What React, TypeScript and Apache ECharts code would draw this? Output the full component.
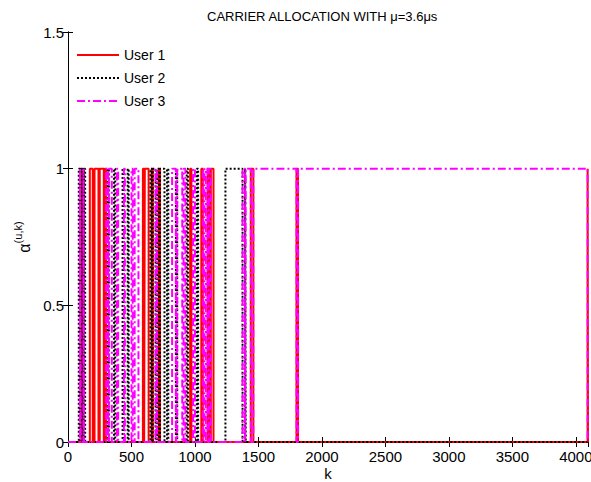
import React, { useEffect, useRef } from "react";
import * as echarts from "echarts";

// carrier index where each allocation segment starts, and the user owning it (0 = none)
const segStart = [
  0, 85, 95, 100, 110, 114, 122, 126, 135, 172, 195, 209, 240, 250, 282, 290, 300, 315, 322, 345,
  362, 372, 385, 395, 430, 440, 448, 470, 478, 500, 510, 525, 555, 590, 600, 605, 635, 650, 660, 668,
  690, 700, 715, 725, 760, 780, 790, 820, 850, 860, 900, 910, 925, 935, 945, 962, 972, 985, 1000, 1015,
  1025, 1050, 1062, 1075, 1085, 1100, 1110, 1125, 1146, 1240, 1375, 1395, 1400, 1440, 1460, 1800, 1812, 4093,
];
const segOwner = [
  0, 2, 3, 2, 1, 2, 3, 2, 0, 1, 0, 1, 0, 1, 0, 1, 3, 2, 3, 0,
  2, 0, 3, 0, 2, 3, 0, 2, 0, 3, 0, 3, 0, 1, 0, 1, 0, 2, 1, 2,
  3, 2, 1, 2, 0, 2, 0, 3, 2, 3, 0, 3, 0, 2, 0, 1, 0, 3, 0, 2,
  0, 1, 3, 0, 3, 1, 3, 1, 0, 2, 3, 2, 3, 1, 3, 1, 3, 1,
];
const kMax = 4096;
const users = ["User 1", "User 2", "User 3"];
const userColors = ["#ff0000", "#000000", "#ff00ff"];
const userDash: (string | number[])[] = ["solid", [2, 2], [8, 3, 2, 3]];
const xTicks = [0, 500, 1000, 1500, 2000, 2500, 3000, 3500, 4000];

function seriesData(u: number): [number, number][] {
  const pts: [number, number][] = segStart.map((k, i) => [k, segOwner[i] === u ? 1 : 0]);
  pts.push([kMax, 0]);
  return pts;
}

const FONT = "'Liberation Sans', Arial, sans-serif";

export default function App() {
  const ref = useRef<HTMLDivElement>(null);
  useEffect(() => {
    if (!ref.current) return;
    const chart = echarts.init(ref.current, null, { renderer: "svg" });
    const axisCommon = {
      axisLine: { show: true, lineStyle: { color: "#000", width: 1 } },
      axisTick: { show: true, inside: true, length: 5, lineStyle: { color: "#000" } },
      splitLine: { show: false },
    };
    chart.setOption({
      animation: false,
      backgroundColor: "#fff",
      textStyle: { fontFamily: FONT },
      grid: { left: 68, right: 3, top: 32, bottom: 40, containLabel: false, outerBoundsMode: "none" },
      legend: {
        orient: "vertical",
        left: 71,
        top: 43,
        itemWidth: 42,
        itemHeight: 12,
        itemGap: 9,
        data: users,
        itemStyle: { color: "rgba(0,0,0,0)", borderColor: "rgba(0,0,0,0)", borderWidth: 0, opacity: 0 },
        textStyle: { fontFamily: FONT, fontSize: 14, color: "#000" },
      },
      graphic: [
        {
          type: "text",
          left: 207,
          top: 10,
          style: { text: "CARRIER ALLOCATION WITH μ=3.6μs", font: `13px ${FONT}`, fill: "#000" },
        },
        {
          type: "text",
          x: 328,
          y: 473,
          style: {
            text: "k",
            font: `15px ${FONT}`,
            fill: "#000",
            align: "center",
            verticalAlign: "middle",
          },
        },
      ],
      xAxis: [
        {
          type: "value",
          min: 0,
          max: kMax,
          interval: 500,
          ...axisCommon,
          axisLabel: {
            color: "#000",
            fontSize: 15,
            fontFamily: FONT,
            margin: 7,
            hideOverlap: false,
            formatter: (v: number) => (xTicks.includes(v) ? String(v) : ""),
          },
        },
        {
          type: "value",
          position: "top",
          min: 0,
          max: kMax,
          interval: 500,
          ...axisCommon,
          axisLabel: { show: false },
        },
      ],
      yAxis: [
        {
          type: "value",
          min: 0,
          max: 1.5,
          interval: 0.5,
          name: "{a|α}{s|(u,k)}",
          nameLocation: "middle",
          nameRotate: 90,
          nameGap: 33,
          nameTextStyle: {
            color: "#000",
            rich: {
              a: { fontFamily: FONT, fontSize: 16, color: "#000", verticalAlign: "bottom", lineHeight: 20 },
              s: { fontFamily: FONT, fontSize: 11, color: "#000", verticalAlign: "top", lineHeight: 20 },
            },
          },
          ...axisCommon,
          axisLabel: { color: "#000", fontSize: 15, fontFamily: FONT, margin: 4 },
        },
        {
          type: "value",
          position: "right",
          min: 0,
          max: 1.5,
          interval: 0.5,
          ...axisCommon,
          axisLabel: { show: false },
        },
      ],
      series: users.map((name, u) => ({
        name,
        type: "line",
        step: "end",
        symbol: "none",
        data: seriesData(u + 1),
        color: userColors[u],
        lineStyle: { color: userColors[u], width: 2, type: userDash[u] },
        z: 2 + u,
      })),
    });
    return () => chart.dispose();
  }, []);
  return (
    <div
      ref={ref}
      style={{ position: "fixed", left: 0, top: 0, width: 591, height: 482, background: "#fff" }}
    />
  );
}
